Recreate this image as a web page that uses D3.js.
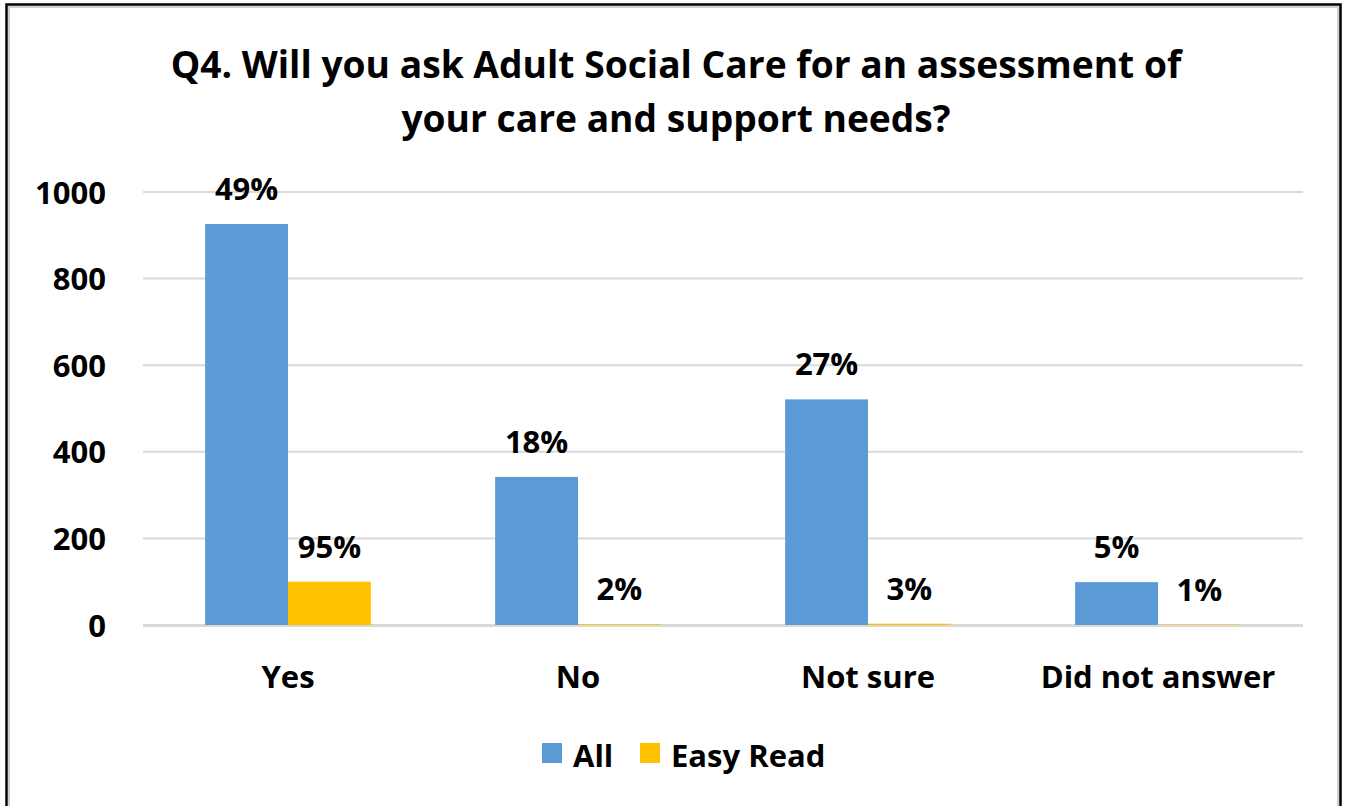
<!DOCTYPE html>
<html>
<head>
<meta charset="utf-8">
<script src="https://cdn.jsdelivr.net/npm/d3@7"></script>
<style>
  html, body { margin: 0; padding: 0; background: #fff; }
  svg { display: block; }
  text { font-family: "Open Sans", Lato, sans-serif; font-weight: 700; fill: #000; }
</style>
</head>
<body>
<svg id="chart" width="1346" height="806"></svg>
<script>
// Responses per answer
const categories = ["Yes", "No", "Not sure", "Did not answer"];
const seriesNames = ["All", "Easy Read"];
const allValues = [926, 342, 521, 99];
const easyReadValues = [100, 2, 3, 1];
const allLabels = ["49%", "18%", "27%", "5%"];
const easyReadLabels = ["95%", "2%", "3%", "1%"];
const yTicks = [0, 200, 400, 600, 800, 1000];
const colors = ["#5B9BD5", "#FFC000"];
const titleLines = [
  "Q4. Will you ask Adult Social Care for an assessment of",
  "your care and support needs?"
];

const series = [
  { name: seriesNames[0], values: allValues, labels: allLabels },
  { name: seriesNames[1], values: easyReadValues, labels: easyReadLabels }
];

const FONT = "\"Open Sans\", Lato, sans-serif";
const LABEL_SIZE = "31px";
const svg = d3.select("#chart");

// Frame
svg.append("rect")
  .attr("x", 9).attr("y", 7).attr("width", 1329).attr("height", 820)
  .attr("fill", "none").attr("stroke", "#d0d0d0").attr("stroke-width", 2);
svg.append("rect")
  .attr("x", 6.5).attr("y", 4.5).attr("width", 1334).attr("height", 830)
  .attr("fill", "none").attr("stroke", "#000").attr("stroke-width", 2.5);

// Title
svg.append("g").selectAll("text")
  .data(titleLines)
  .join("text")
  .attr("x", 676)
  .attr("y", (d, i) => 78 + i * 54)
  .attr("text-anchor", "middle")
  .style("font-size", "37.2px")
  .text(d => d);

// Scales
const plot = { left: 143, right: 1303, top: 192, bottom: 625 };
const x0 = d3.scaleBand()
  .domain(categories)
  .range([plot.left, plot.right])
  .paddingInner(1.5 / 3.5)
  .paddingOuter(0.75 / 3.5);
const x1 = d3.scaleBand()
  .domain(seriesNames)
  .range([0, x0.bandwidth()]);
const y = d3.scaleLinear()
  .domain([0, 1000])
  .range([plot.bottom, plot.top]);

// Gridlines
svg.append("g").selectAll("line")
  .data(yTicks)
  .join("line")
  .attr("x1", plot.left).attr("x2", plot.right)
  .attr("y1", d => y(d)).attr("y2", d => y(d))
  .attr("stroke", "#d9d9d9").attr("stroke-width", 2);

// Y axis labels
const yAxis = d3.axisLeft(y).tickValues(yTicks).tickFormat(d3.format("d")).tickSize(0).tickPadding(37);
const yg = svg.append("g").attr("transform", `translate(${plot.left},0)`).call(yAxis);
yg.select(".domain").remove();
yg.selectAll("text")
  .style("font-size", LABEL_SIZE)
  .style("font-family", FONT)
  .style("font-weight", 700)
  .attr("fill", "#000")
  .attr("dy", "0.36em");

// Bars
const groups = svg.append("g").selectAll("g")
  .data(series)
  .join("g")
  .attr("fill", (d, i) => colors[i]);

const cells = s => s.values.map((v, i) => ({ s: s.name, cat: categories[i], v, label: s.labels[i] }));

groups.selectAll("rect")
  .data(cells)
  .join("rect")
  .attr("x", d => x0(d.cat) + x1(d.s))
  .attr("width", x1.bandwidth())
  .attr("y", d => y(d.v))
  .attr("height", d => y(0) - y(d.v));

// Baseline drawn over the bars
svg.append("line")
  .attr("x1", plot.left).attr("x2", plot.right)
  .attr("y1", y(0) + 1).attr("y2", y(0) + 1)
  .attr("stroke", "#d9d9d9").attr("stroke-width", 2);

// Value labels
groups.selectAll("text")
  .data(cells)
  .join("text")
  .attr("x", d => x0(d.cat) + x1(d.s) + x1.bandwidth() / 2)
  .attr("y", d => y(d.v) - 24)
  .attr("text-anchor", "middle")
  .attr("fill", "#000")
  .style("font-size", LABEL_SIZE)
  .text(d => d.label);

// X axis labels
const xAxis = d3.axisBottom(x0).tickSize(0).tickPadding(0);
const xg = svg.append("g").attr("transform", `translate(0,${plot.bottom})`).call(xAxis);
xg.select(".domain").remove();
xg.selectAll("text")
  .style("font-size", LABEL_SIZE)
  .style("font-family", FONT)
  .style("font-weight", 700)
  .attr("fill", "#000")
  .attr("y", 63)
  .attr("dy", 0);

// Legend
const legendItems = [
  { name: seriesNames[0], color: colors[0], x: 542 },
  { name: seriesNames[1], color: colors[1], x: 640 }
];
const lg = svg.append("g").selectAll("g")
  .data(legendItems)
  .join("g")
  .attr("transform", d => `translate(${d.x},743)`);
lg.append("rect").attr("width", 20).attr("height", 20).attr("fill", d => d.color);
lg.append("text")
  .attr("x", 31).attr("y", 24)
  .style("font-size", LABEL_SIZE)
  .text(d => d.name);
</script>
</body>
</html>
